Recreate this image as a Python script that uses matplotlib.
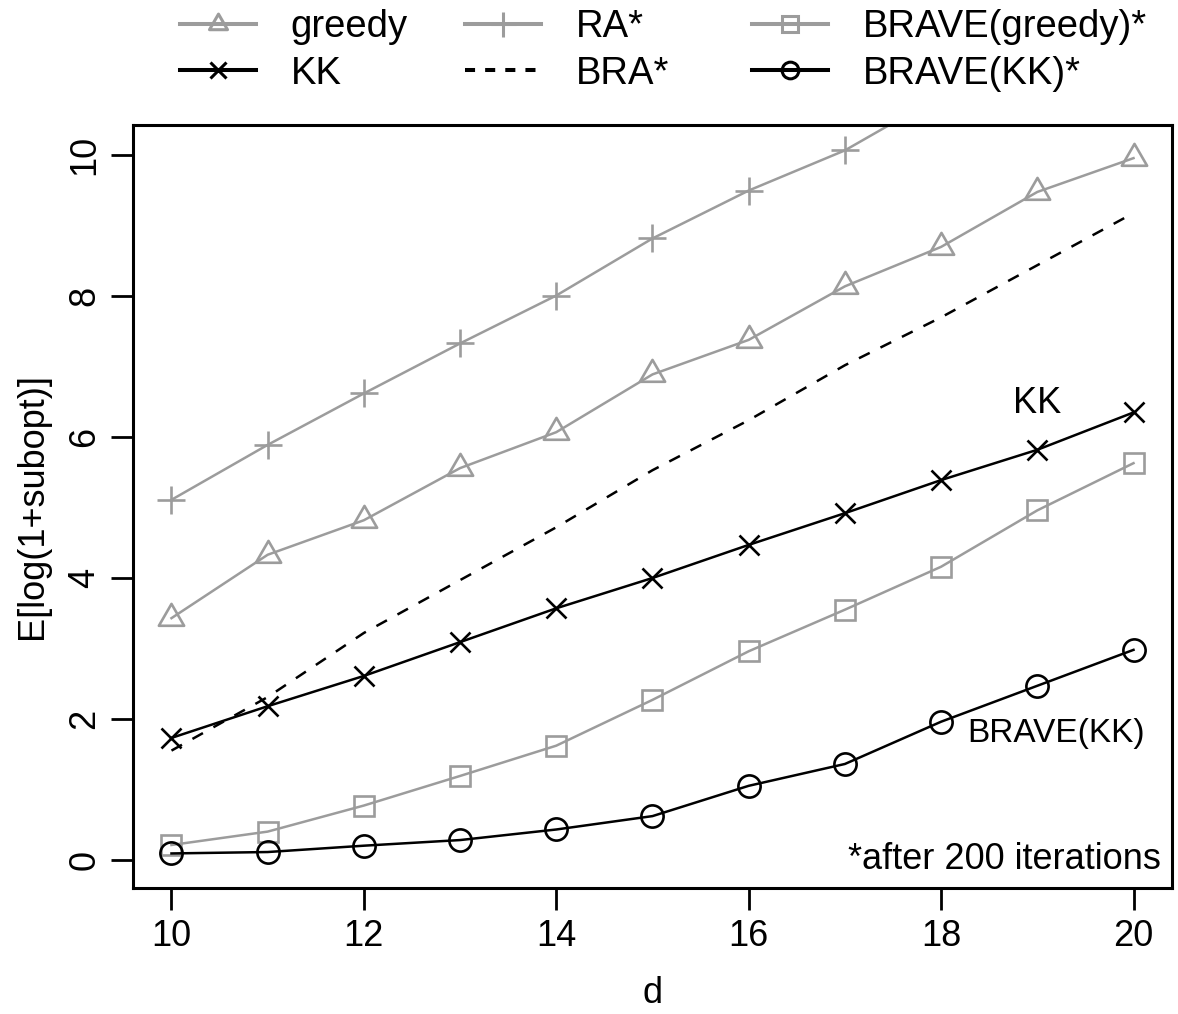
import numpy as np
import matplotlib
matplotlib.use("Agg")
import matplotlib.pyplot as plt
from matplotlib.path import Path
from matplotlib.lines import Line2D

plt.rcParams['font.family'] = ['Liberation Sans', 'DejaVu Sans']

# ---- data ----
d = [10, 11, 12, 13, 14, 15, 16, 17, 18, 19, 20]
greedy = [3.43, 4.33, 4.82, 5.56, 6.07, 6.89, 7.38, 8.14, 8.70, 9.48, 9.96]
ra_star = [5.11, 5.89, 6.62, 7.33, 8.01, 8.82, 9.50, 10.07, 10.85, 11.60, 12.40]
kk = [1.73, 2.18, 2.61, 3.09, 3.57, 4.00, 4.47, 4.92, 5.39, 5.82, 6.35]
bra_star = [1.55, 2.31, 3.22, 3.97, 4.72, 5.53, 6.24, 7.02, 7.70, 8.44, 9.18]
brave_greedy = [0.21, 0.40, 0.77, 1.19, 1.62, 2.27, 2.96, 3.55, 4.16, 4.96, 5.63]
brave_kk = [0.09, 0.11, 0.20, 0.28, 0.43, 0.62, 1.05, 1.36, 1.96, 2.47, 2.98]

x_ticks = [10, 12, 14, 16, 18, 20]
y_ticks = [0, 2, 4, 6, 8, 10]

GREY = '#9c9c9c'
FS = 26

# R-style open triangle (equilateral)
tri = Path([(-0.866, -0.5), (0.866, -0.5), (0.0, 1.0), (-0.866, -0.5)],
           [Path.MOVETO, Path.LINETO, Path.LINETO, Path.CLOSEPOLY])

fig = plt.figure(figsize=(11.78, 10.14), dpi=100)
ax = fig.add_axes([0.1129, 0.1243, 0.8820, 0.7524])

lw = 1.8
mew = 1.9
ax.plot(d, greedy, color=GREY, lw=lw, marker=tri, ms=21, mfc='none', mec=GREY, mew=mew)
ax.plot(d, ra_star, color=GREY, lw=lw, marker='+', ms=20, mec=GREY, mew=mew)
ax.plot(d, brave_greedy, color=GREY, lw=lw, marker='s', ms=15, mfc='none', mec=GREY, mew=mew)
ax.plot(d, kk, color='black', lw=lw, marker='x', ms=14, mec='black', mew=mew)
ax.plot(d, bra_star, color='black', lw=lw, dashes=(4.8, 4.8))
ax.plot(d, brave_kk, color='black', lw=lw, marker='o', ms=16, mfc='none', mec='black', mew=mew)

ax.set_xlim(9.6, 20.4)
ax.set_ylim(-0.4, 10.43)
ax.set_xticks(x_ticks)
ax.set_yticks(y_ticks)
ax.tick_params(axis='both', direction='out', length=16, width=2.0, labelsize=FS, pad=6)
for lab in ax.get_yticklabels():
    lab.set_rotation(90)
    lab.set_va('center')
for sp in ax.spines.values():
    sp.set_linewidth(2.2)

ax.set_xlabel('d', fontsize=FS)
ax.xaxis.set_label_coords(0.5, -0.138)
ax.xaxis.label.set_va('center')
ax.set_ylabel('E[log(1+subopt)]', fontsize=FS)
ax.yaxis.set_label_coords(-0.097, 0.5)
ax.yaxis.label.set_va('center')

ax.text(19.0, 6.48, 'KK', fontsize=FS, ha='center', va='center')
ax.text(19.2, 1.79, 'BRAVE(KK)', fontsize=24, ha='center', va='center')
ax.text(20.28, 0.0, '*after 200 iterations', fontsize=FS, ha='right', va='center')

# legend: thicker lines, smaller symbols, three columns like the R legend
llw = 2.9
lg = [Line2D([], [], color=GREY, lw=llw, marker=tri, ms=15, mfc='none', mec=GREY, mew=2.2),
      Line2D([], [], color='black', lw=llw, marker='x', ms=12, mec='black', mew=2.2)]
lr = [Line2D([], [], color=GREY, lw=llw, marker='+', ms=18, mec=GREY, mew=2.2),
      Line2D([], [], color='black', lw=llw, dashes=(2.5, 2.5))]
lb = [Line2D([], [], color=GREY, lw=llw, marker='s', ms=12, mfc='none', mec=GREY, mew=2.2),
      Line2D([], [], color='black', lw=llw, marker='o', ms=12, mfc='none', mec='black', mew=2.2)]
cols = [(lg, ['greedy', 'KK'], 180),
        (lr, ['RA*', 'BRA*'], 465),
        (lb, ['BRAVE(greedy)*', 'BRAVE(KK)*'], 752)]
for handles, labels, xpx in cols:
    fig.legend(handles=handles, labels=labels, loc='upper left',
               bbox_to_anchor=(xpx / 1178, 1 - 9 / 1014),
               frameon=False, fontsize=27.5, handlelength=2.0, handletextpad=0.9,
               borderpad=0, borderaxespad=0, labelspacing=0.28)

fig.savefig('out.png', dpi=100)
